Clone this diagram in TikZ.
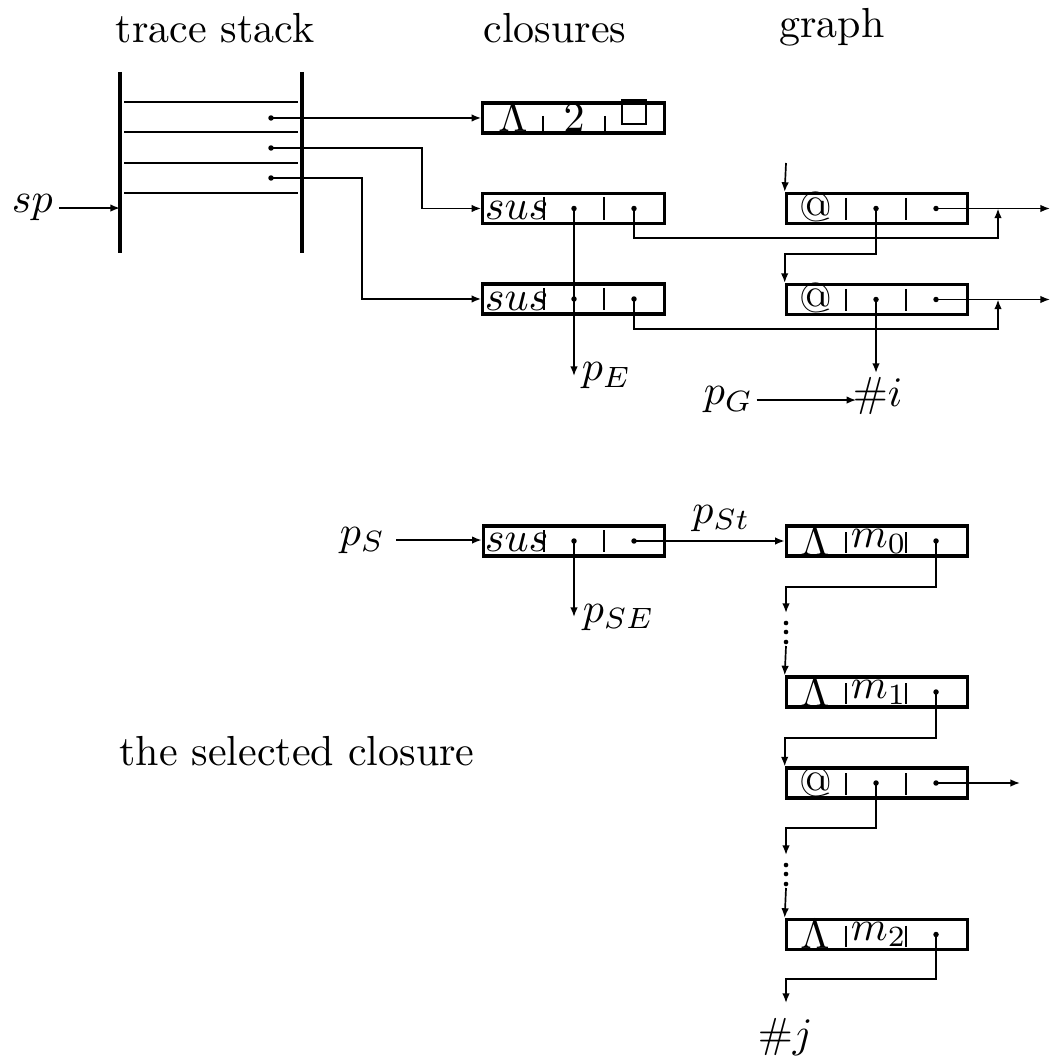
\documentclass[tikz,border=0pt]{standalone}
\usetikzlibrary{arrows.meta}
\begin{document}
\begin{tikzpicture}[x=0.238pt,y=-0.238pt,
  box/.style={draw,line width=0.75pt,minimum width=43.2pt,minimum height=7.14pt,inner sep=0pt},
  thin/.style={line width=0.4pt},
  stackline/.style={line width=0.75pt},
  arr/.style={line width=0.4pt,-{Latex[length=2.3pt,width=1.8pt]}},
  bar/.style={line width=0.3pt},
  lbl/.style={inner sep=0pt,anchor=base west},
  txt/.style={inner sep=0pt,anchor=base},
  dot/.style={circle,fill,inner sep=0pt,minimum size=1.3pt}]
\useasboundingbox (0,0) rectangle (1052,1057);

% titles
\node[txt] (t1) at (215,43) {trace stack};
\node[txt] (t2) at (555,43) {closures};
\node[txt] (t3) at (832,38) {graph};
\node[txt] (t4) at (297,765) {the selected closure};

% trace stack
\draw[stackline] (120,72) -- (120,253);
\draw[stackline] (302,72) -- (302,253);
\foreach \y in {102,132,163,193} \draw[thin] (124,\y) -- (298,\y);
\coordinate (spin) at (120,209);
\node[dot] (d1) at (271,118) {};
\node[dot] (d2) at (271,148) {};
\node[dot] (d3) at (271,178) {};
\node[lbl] (sp) at (11,213) {$sp$};
\draw[arr] ([xshift=1.4pt]sp.east) -- (sp.east -| spin);

% closure boxes
\node[box] (c1) at (573.5,118) {};
\node[box] (c2) at (573.5,208.5) {};
\node[box] (c3) at (573.5,299) {};
\node[box] (s) at (574,541) {};
% graph boxes
\node[box] (g1) at (877,208.5) {};
\node[box] (g2) at (877,299.5) {};
\node[box] (m0) at (877,541) {};
\node[box] (m1) at (877,692) {};
\node[box] (a3) at (877,783) {};
\node[box] (m2) at (877,934.5) {};

% c1 contents
\node[txt] (c1a) at (513,132) {$\Lambda$};
\draw[bar] (543,116) -- (543,131);
\node[txt] (c1b) at (574,132) {$2$};
\draw[bar] (605,116) -- (605,131);
\node[draw,line width=0.5pt,minimum size=5.7pt,inner sep=0pt] (c1c) at (634,112) {};

% sus boxes
\node[lbl] (c2a) at (484,220) {$sus$};
\draw[bar] (544,197) -- (544,220); \draw[bar] (604,197) -- (604,220);
\node[lbl] (c3a) at (484,310.5) {$sus$};
\draw[bar] (544,288) -- (544,310); \draw[bar] (604,288) -- (604,310);
\node[lbl] (sa) at (484,552) {$sus$};
\draw[bar] (544,530) -- (544,552); \draw[bar] (604,530) -- (604,552);

% @ boxes
\node[txt] (g1a) at (816,221.5) {@};
\draw[bar] (846,198) -- (846,220); \draw[bar] (906,198) -- (906,220);
\node[txt] (g2a) at (816,312.5) {@};
\draw[bar] (846,289) -- (846,311); \draw[bar] (906,289) -- (906,311);
\node[txt] (a3a) at (816,796) {@};
\draw[bar] (846,773) -- (846,795); \draw[bar] (906,773) -- (906,795);

% lambda boxes
\node[txt] (m0a) at (815,555) {$\Lambda$};
\draw[bar] (846,532) -- (846,553); \draw[bar] (906,532) -- (906,553);
\node[lbl] (m0b) at (850,547) {$m_0$};
\node[txt] (m1a) at (815,706) {$\Lambda$};
\draw[bar] (846,683) -- (846,704); \draw[bar] (906,683) -- (906,704);
\node[lbl] (m1b) at (850,698) {$m_1$};
\node[txt] (m2a) at (815,948.5) {$\Lambda$};
\draw[bar] (846,925.5) -- (846,946.5); \draw[bar] (906,925.5) -- (906,946.5);
\node[lbl] (m2b) at (850,940.5) {$m_2$};

% dots in boxes
\node[dot] (c2m) at (574,208.5) {};
\node[dot] (c2r) at (634,208.5) {};
\node[dot] (c3m) at (574,299) {};
\node[dot] (c3r) at (634,299) {};
\node[dot] (sm) at (574,541) {};
\node[dot] (sr) at (634,541) {};
\node[dot] (g1m) at (876,208.5) {};
\node[dot] (g1r) at (936,208.5) {};
\node[dot] (g2m) at (876,299.5) {};
\node[dot] (g2r) at (936,299.5) {};
\node[dot] (m0d) at (936,541) {};
\node[dot] (m1d) at (936,692) {};
\node[dot] (a3m) at (876,783) {};
\node[dot] (a3r) at (936,783) {};
\node[dot] (m2d) at (936,934.5) {};

% labels
\node[lbl] (pE) at (581,381) {$p_E$};
\node[lbl] (pG) at (703,405) {$p_G$};
\node[lbl] (hi) at (852,407) {$\#i$};
\node[lbl] (pS) at (339,545) {$p_S$};
\node[lbl] (pSE) at (582,622) {$p_{SE}$};
\node[lbl] (hj) at (757,1047) {$\#j$};

% stack pointers
\draw[arr] (d1.center) -- (c1.west);
\draw[arr] (d2.center) -- (422,148) |- (c2.west);
\draw[arr] (d3.center) -- (362,178) |- (c3.west);

% closures
\draw[arr] (c2m.center) -- (c2m |- pE);
\draw[arr] (c2r.center) -- (634,238) -| (998,208.5);
\draw[arr] (c3r.center) -- (634,329) -| (998,299.5);

% graph
\coordinate (gin) at (786,163);
\draw[arr] (gin) -- (g1.north west);
\coordinate (g1o) at (1050,208.5);
\coordinate (g2o) at (1050,299.5);
\draw[arr] (g1r.center) -- (g1o);
\draw[arr] (g2r.center) -- (g2o);
\draw[arr] (g1m.center) -- (876,254) -| (g2.north west);
\draw[arr] (g2m.center) -- (876,373);
\draw[arr] ([xshift=0.6pt]pG.east) -- ([xshift=1pt]pG.east -| hi.west);

% selected closure
\draw[arr] ([xshift=2.4pt]pS.east) -- (pS.east -| s.west);
\draw[arr] (sm.center) -- (sm |- pSE);
\draw[arr] (sr.center) -- node[pos=0.58,above=2pt,inner sep=0pt] (pSt) {$p_{St}$} (m0.west);

\draw[arr] (m0d.center) -- (936,587) -| (786,613);
\foreach \y in {623,632,642} \fill (786,\y) circle[radius=0.55pt];
\draw[arr] (786,646) -- (m1.north west);
\draw[arr] (m1d.center) -- (936,738) -| (a3.north west);
\coordinate (a3o) at (1020,783);
\draw[arr] (a3r.center) -- (a3o);
\draw[arr] (a3m.center) -- (876,828) -| (786,855);
\foreach \y in {865,874,884} \fill (786,\y) circle[radius=0.55pt];
\draw[arr] (786,888) -- (m2.north west);
\draw[arr] (m2d.center) -- (936,979) -| (786,1003);
\end{tikzpicture}
\end{document}
